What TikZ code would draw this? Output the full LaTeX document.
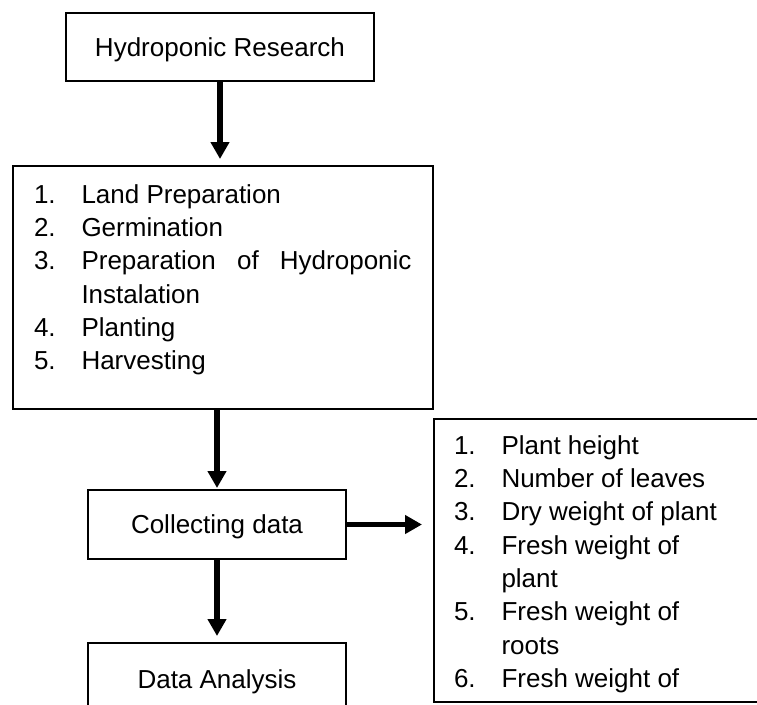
\documentclass[tikz,border=0pt]{standalone}
\usepackage{fontspec}
\setmainfont{Liberation Sans}
\usetikzlibrary{arrows.meta}
\tikzset{
  box/.style={draw=black, line width=1.8pt, rectangle, inner sep=0pt, outer sep=0pt,
    text height=18.6pt, text depth=0pt,
    font=\fontsize{26}{33.3}\selectfont},
  arr/.style={line width=5.5pt, -{Triangle[length=17pt 0, width=18pt 0]}},
  itemtxt/.style={anchor=base west, inner sep=0pt, outer sep=0pt,
    font=\fontsize{26}{33.3}\selectfont}
}
\begin{document}
\begin{tikzpicture}[x=1pt,y=-1pt]
\useasboundingbox (0,0) rectangle (757,704);
\clip (0,0) rectangle (757,704);
\fill[white] (0,0) rectangle (757,704);
% boxes
\node[box, minimum width=308pt, minimum height=68pt] (top) at (220,47) {Hydroponic Research};
\node[box, minimum width=420pt, minimum height=243pt] (steps) at (223,287.5) {};
\node[box, minimum width=258pt, minimum height=69pt] (collect) at (217,524.5) {Collecting data};
\node[box, minimum width=258pt, minimum height=69pt] (analysis) at (217,677.5) {};
\node[itemtxt, anchor=base] (analysistxt) at (217,688) {Data Analysis};
\node[box, minimum width=346pt, minimum height=283pt] (params) at (607,560.5) {};
% left list
\foreach \n/\yy/\num/\txt in {1/203/1./Land Preparation, 2/236.3/2./Germination,
  3/269.6/3./{\makebox[330pt][s]{Preparation of Hydroponic}}, 4/303//Instalation,
  5/336.3/4./Planting, 6/369.6/5./Harvesting}{
  \node[itemtxt] (ln\n) at (34,\yy) {\num};
  \node[itemtxt] (lt\n) at (81.5,\yy) {\txt};
}
% right list
\foreach \n/\yy/\num/\txt in {1/454/1./Plant height, 2/487.3/2./Number of leaves,
  3/520.6/3./Dry weight of plant, 4/554/4./Fresh weight of, 5/587.3//plant,
  6/620.6/5./Fresh weight of, 7/654//roots, 8/687/6./Fresh weight of}{
  \node[itemtxt] (rn\n) at (454,\yy) {\num};
  \node[itemtxt] (rt\n) at (501.5,\yy) {\txt};
}
% arrows
\draw[arr] (top.south) -- ([yshift=7pt]top.south |- steps.north);
\draw[arr] (steps.south -| collect.north) -- ([yshift=2pt]collect.north);
\draw[arr] (collect.south) -- ([yshift=7pt]analysis.north);
\draw[arr] (collect.east) -- ([xshift=-12pt]params.west |- collect.east);
\end{tikzpicture}
\end{document}
